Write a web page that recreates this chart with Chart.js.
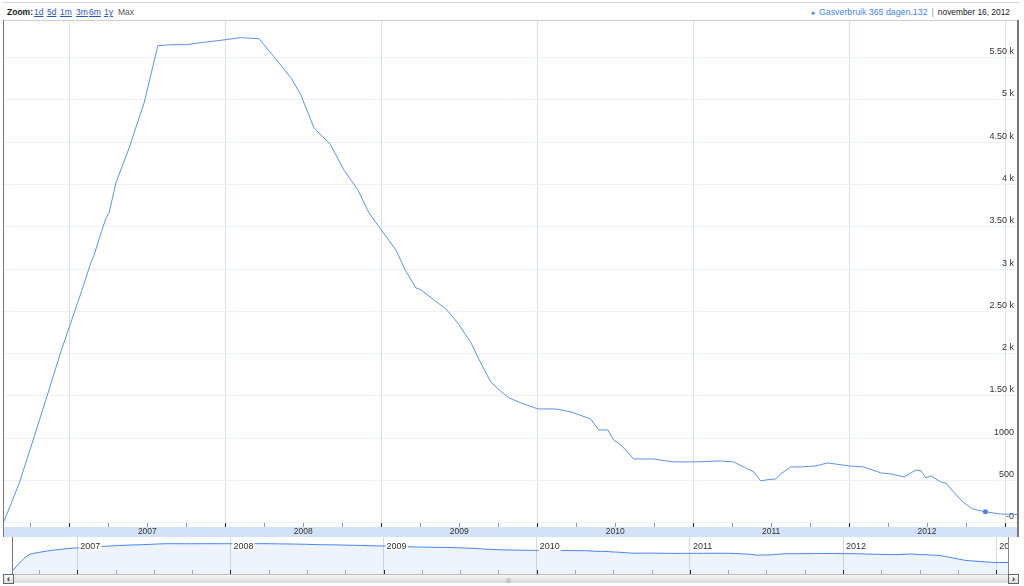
<!DOCTYPE html>
<html>
<head>
<meta charset="utf-8">
<title>Gasverbruik 365 dagen</title>
<script src="https://cdn.jsdelivr.net/npm/chart.js@4.4.0/dist/chart.umd.min.js"></script>
<style>
  body { margin: 0; width: 1024px; height: 586px; overflow: hidden; position: relative; background: #fff;
         font-family: "Liberation Sans", Arial, sans-serif; }
  .abs { position: absolute; }
  #topline { left: 3px; top: 2px; width: 1017px; height: 1px; background: #d4d4d4; }
  #zoom span { position: absolute; top: 7px; font-size: 8.5px; line-height: 11px; white-space: nowrap; }
  #zoom .lbl { font-weight: bold; color: #222; }
  #zoom .lnk { color: #2b55c0; text-decoration: underline; }
  #zoom .cur { color: #555; }
  #leg { right: 14px; top: 7px; font-size: 8.8px; line-height: 11px; white-space: nowrap; color: #222; }
  #leg .dot { color: #4684ee; font-size: 7px; margin-right: 4px; }
  #leg .name { color: #4684ee; }
  #leg .sep { color: #999; margin: 0 4px; }
  #leg .date { font-size: 8.4px; }
  #frameTop { left: 3px; top: 20px; width: 1016px; height: 1px; background: #cfcfcf; }
  #frameLeft { left: 3px; top: 20px; width: 1px; height: 517px; background: #777; }
  #frameRight { left: 1017px; top: 20px; width: 2px; height: 517px; background: #777; }
  #band { left: 3px; top: 527px; width: 1015px; height: 10px; background: #d3e2f6; }
  #main { left: 4px; top: 21px; }
  #nav { left: 13px; top: 537px; }
  #navLeft { left: 12px; top: 537px; width: 1px; height: 38px; background: #777; }
  #navRight { left: 1008px; top: 537px; width: 1px; height: 38px; background: #888; }
  #scroll { left: 12px; top: 574px; width: 996px; height: 8px; background: linear-gradient(#f7f7f7, #d9d9d9);
            border-top: 1px solid #bbb; }
  #grip { left: 506px; top: 577px; font-size: 6px; line-height: 6px; color: #999; }
  .btn { top: 574px; width: 9px; height: 8px; border: 1px solid #666; background: linear-gradient(#fafafa, #dcdcdc);
         font-size: 9px; line-height: 8px; font-weight: bold; text-align: center; color: #111; }
  #btnL { left: 3px; }
  #btnR { left: 1008px; }
</style>
</head>
<body>
<div class="abs" id="topline"></div>
<div id="zoom">
  <span class="lbl" style="left:7px">Zoom:</span>
  <span class="lnk" style="left:34px">1d</span>
  <span class="lnk" style="left:47px">5d</span>
  <span class="lnk" style="left:60px">1m</span>
  <span class="lnk" style="left:76px">3m</span>
  <span class="lnk" style="left:89px">6m</span>
  <span class="lnk" style="left:104px">1y</span>
  <span class="cur" style="left:118px">Max</span>
</div>
<div class="abs" id="leg"><span class="dot">&#9679;</span><span class="name" id="legName"></span><span class="sep">|</span><span class="date" id="legDate"></span></div>

<div class="abs" id="band"></div>
<canvas class="abs" id="main" width="1013" height="516"></canvas>
<div class="abs" id="frameTop"></div>
<div class="abs" id="frameLeft"></div>
<div class="abs" id="frameRight"></div>

<canvas class="abs" id="nav" width="995" height="37"></canvas>
<div class="abs" id="navLeft"></div>
<div class="abs" id="navRight"></div>
<div class="abs" id="scroll"></div>
<div class="abs" id="grip">|||</div>
<div class="abs btn" id="btnL">&lsaquo;</div>
<div class="abs btn" id="btnR">&rsaquo;</div>

<script>
// gemeten punten (datum -> m3 over de laatste 365 dagen)
const dates = [
  '2006-08-01', '2006-09-05', '2006-10-03', '2006-11-07', '2006-12-12',
  '2007-01-01', '2007-01-29', '2007-02-21', '2007-02-28', '2007-03-17', '2007-03-28', '2007-04-04',
  '2007-04-20', '2007-05-21', '2007-06-25', '2007-07-27', '2007-08-27', '2007-10-01', '2007-11-05',
  '2008-01-01', '2008-02-06', '2008-03-20', '2008-04-24', '2008-06-03', '2008-06-26', '2008-07-27',
  '2008-09-04', '2008-10-05', '2008-11-07', '2008-12-03',
  '2009-01-01', '2009-02-04', '2009-02-27', '2009-03-23', '2009-04-04', '2009-05-04', '2009-06-01',
  '2009-06-29', '2009-07-30', '2009-08-22', '2009-09-14', '2009-10-01', '2009-10-27', '2009-11-24',
  '2010-01-03', '2010-02-13', '2010-03-21', '2010-05-06', '2010-05-25', '2010-06-15', '2010-06-29',
  '2010-07-16', '2010-08-15', '2010-09-29', '2010-11-16',
  '2011-01-01', '2011-03-06', '2011-04-06', '2011-05-04', '2011-05-23', '2011-06-08', '2011-06-20',
  '2011-07-13', '2011-07-25', '2011-08-17', '2011-09-10', '2011-10-15', '2011-11-12',
  '2012-01-01', '2012-02-04', '2012-03-16', '2012-04-08', '2012-05-09', '2012-06-06', '2012-06-18',
  '2012-06-29', '2012-07-11', '2012-08-03', '2012-08-15', '2012-08-31', '2012-09-24', '2012-10-17',
  '2012-11-16', '2012-12-21', '2013-01-29'
];
const gasUsage = [
  20, 461, 898, 1454, 2021,
  2317, 2730, 3085, 3168, 3440, 3605, 3664,
  4019, 4432, 4964, 5638, 5650, 5650, 5674,
  5709, 5733, 5721, 5508, 5260, 5059, 4669,
  4468, 4172, 3936, 3664,
  3463, 3227, 2979, 2778, 2754, 2636, 2529,
  2364, 2128, 1891, 1667, 1584, 1478, 1418,
  1347, 1347, 1312, 1229, 1099, 1099, 981,
  922, 756, 756, 721,
  721, 733, 721, 650, 603, 496, 508,
  520, 579, 662, 662, 674, 709,
  674, 662, 591, 579, 544, 626, 615,
  532, 556, 485, 473, 378, 248, 165,
  132, 106, 100
];
const yTickValues = [0, 500, 1000, 1500, 2000, 2500, 3000, 3500, 4000, 4500, 5000, 5500];
const yTickLabels = ['-0', '500', '1000', '1.50 k', '2 k', '2.50 k', '3 k', '3.50 k', '4 k', '4.50 k', '5 k', '5.50 k'];
const yearLabels = ['2007', '2008', '2009', '2010', '2011', '2012', '2013'];
const seriesName = 'Gasverbruik 365 dagen';
const markerDate = '2012-11-16';
const markerLabel = 'november 16, 2012';

const LINE = '#5a93ee';
const FONT = '"Liberation Sans", Arial, sans-serif';

// datum -> decimaal jaartal, zodat een lineaire as gebruikt kan worden
function toYear(s) {
  const [y, m, d] = s.split('-').map(Number);
  const start = Date.UTC(y, 0, 1), end = Date.UTC(y + 1, 0, 1);
  return y + (Date.UTC(y, m - 1, d) - start) / (end - start);
}

const points = dates.map((d, i) => ({ x: toYear(d), y: gasUsage[i] }));
const markIdx = dates.indexOf(markerDate);
const xMin = points[0].x;
const xMax = points[points.length - 1].x;

// kwartaal-ticks over het bereik
const quarterTicks = [];
for (let q = Math.ceil(xMin * 4); q <= Math.floor(xMax * 4); q++) quarterTicks.push(q / 4);
const isYear = v => Math.abs(v - Math.round(v)) < 1e-9;

document.getElementById('legName').textContent = seriesName + '.' + gasUsage[markIdx];
document.getElementById('legDate').textContent = markerLabel;

// hoofdgrafiek
new Chart(document.getElementById('main'), {
  type: 'line',
  data: {
    datasets: [{
      label: seriesName,
      data: points,
      borderColor: LINE,
      borderWidth: 1,
      tension: 0,
      fill: false,
      pointRadius: ctx => ctx.index === markIdx ? 2.5 : 0,
      pointBackgroundColor: '#4684ee',
      pointBorderWidth: 0
    }]
  },
  options: {
    responsive: false, animation: false, events: [],
    layout: { autoPadding: false, padding: 0 },
    plugins: { legend: { display: false }, tooltip: { enabled: false } },
    scales: {
      x: {
        type: 'linear', position: 'bottom', min: xMin, max: xMax,
        afterBuildTicks: s => { s.ticks = quarterTicks.map(v => ({ value: v })); },
        afterFit: s => { s.paddingLeft = 0; s.paddingRight = 0; },
        grid: {
          color: c => c.tick && isYear(c.tick.value) ? '#dce2dc' : 'rgba(0,0,0,0)',
          tickColor: c => c.tick && isYear(c.tick.value) ? '#222' : '#9a9a9a',
          tickLength: 4
        },
        border: { display: false },
        ticks: {
          autoSkip: false, maxRotation: 0, minRotation: 0, padding: 0,
          color: '#333', font: { family: FONT, size: 8.5, lineHeight: 1.18 },
          callback: v => {
            if (Math.abs(v - Math.floor(v) - 0.5) > 1e-9) return '';
            const lbl = String(Math.floor(v));
            return yearLabels.includes(lbl) ? lbl : '';
          }
        }
      },
      y: {
        type: 'linear', position: 'right', min: 0, max: 5930,
        afterBuildTicks: s => { s.ticks = yTickValues.map(v => ({ value: v })); },
        afterFit: s => { s.width = 0; s.paddingTop = 0; s.paddingBottom = 0; },
        grid: { color: '#edf0f6', drawTicks: false },
        border: { display: false },
        ticks: {
          mirror: true, padding: -3, labelOffset: -6,
          color: '#333', font: { family: FONT, size: 9 },
          callback: v => yTickLabels[yTickValues.indexOf(v)]
        }
      }
    }
  }
});

// navigator onderaan: zelfde reeks, logaritmisch
const navDecor = {
  id: 'navDecor',
  afterDatasetsDraw(chart) {
    const { ctx, chartArea: a, scales: { x } } = chart;
    ctx.save();
    quarterTicks.forEach(v => {
      const px = Math.round(x.getPixelForValue(v)) + 0.5;
      ctx.strokeStyle = isYear(v) ? '#222' : '#aaa';
      ctx.beginPath();
      ctx.moveTo(px, a.bottom - 4);
      ctx.lineTo(px, a.bottom);
      ctx.stroke();
    });
    ctx.font = '9px ' + FONT;
    ctx.textBaseline = 'middle';
    yearLabels.forEach(lbl => {
      const px = x.getPixelForValue(Number(lbl)) + 2;
      const w = ctx.measureText(lbl).width;
      ctx.fillStyle = '#fff';
      ctx.fillRect(px, 4, w + 2, 10);
      ctx.fillStyle = '#333';
      ctx.fillText(lbl, px + 1, 9.5);
    });
    ctx.restore();
  }
};

new Chart(document.getElementById('nav'), {
  type: 'line',
  data: {
    datasets: [{
      data: points,
      borderColor: '#4684ee',
      borderWidth: 1,
      pointRadius: 0,
      tension: 0.3,
      fill: 'start',
      backgroundColor: 'rgba(70,132,238,0.09)'
    }]
  },
  options: {
    responsive: false, animation: false, events: [],
    layout: { autoPadding: false, padding: 0 },
    plugins: { legend: { display: false }, tooltip: { enabled: false } },
    scales: {
      x: {
        type: 'linear', min: xMin, max: xMax,
        afterBuildTicks: s => { s.ticks = quarterTicks.map(v => ({ value: v })); },
        afterFit: s => { s.height = 0; s.paddingLeft = 0; s.paddingRight = 0; },
        grid: { color: c => c.tick && isYear(c.tick.value) ? '#d6dcd6' : 'rgba(0,0,0,0)', drawTicks: false },
        border: { display: false },
        ticks: { display: false }
      },
      y: { type: 'logarithmic', min: 8.6, max: 24000, display: false }
    }
  },
  plugins: [navDecor]
});
</script>
</body>
</html>
